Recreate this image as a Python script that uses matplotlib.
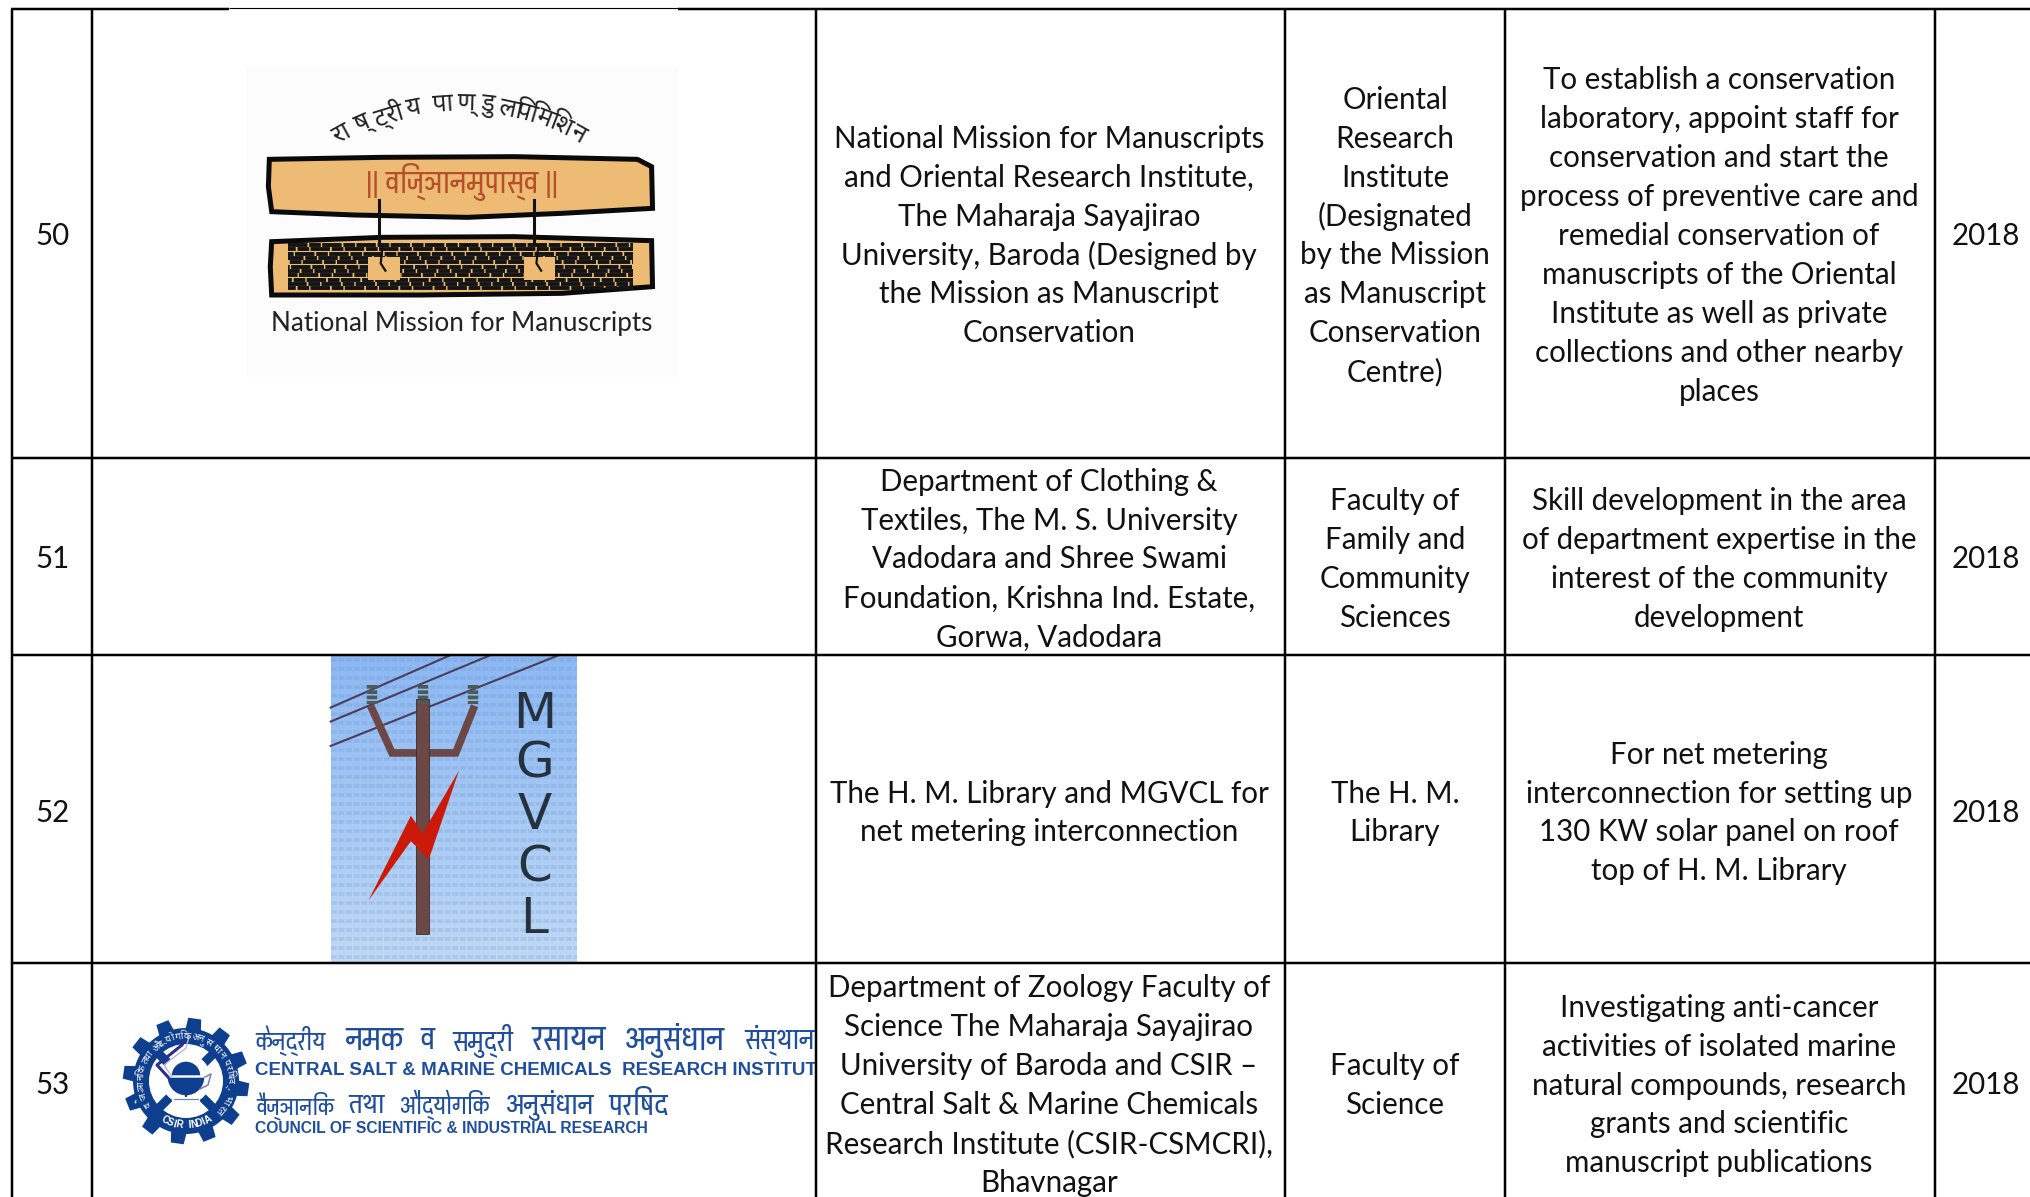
import numpy as np
import matplotlib
matplotlib.use('Agg')
import matplotlib.pyplot as plt
from matplotlib.patches import Polygon, Rectangle, Circle, Wedge

# ---- table content ----
row_numbers = ['50', '51', '52', '53']
years = ['2018', '2018', '2018', '2018']
partners = [
    ['National Mission for Manuscripts', 'and Oriental Research Institute,', 'The Maharaja Sayajirao',
     'University, Baroda (Designed by', 'the Mission as Manuscript', 'Conservation'],
    ['Department of Clothing &', 'Textiles, The M. S. University', 'Vadodara and Shree Swami',
     'Foundation, Krishna Ind. Estate,', 'Gorwa, Vadodara'],
    ['The H. M. Library and MGVCL for', 'net metering interconnection'],
    ['Department of Zoology Faculty of', 'Science The Maharaja Sayajirao', 'University of Baroda and CSIR \u2013',
     'Central Salt & Marine Chemicals', 'Research Institute (CSIR-CSMCRI),', 'Bhavnagar'],
]
faculties = [
    ['Oriental', 'Research', 'Institute', '(Designated', 'by the Mission', 'as Manuscript', 'Conservation', 'Centre)'],
    ['Faculty of', 'Family and', 'Community', 'Sciences'],
    ['The H. M.', 'Library'],
    ['Faculty of', 'Science'],
]
purposes = [
    ['To establish a conservation', 'laboratory, appoint staff for', 'conservation and start the',
     'process of preventive care and', 'remedial conservation of', 'manuscripts of the Oriental',
     'Institute as well as private', 'collections and other nearby', 'places'],
    ['Skill development in the area', 'of department expertise in the', 'interest of the community', 'development'],
    ['For net metering', 'interconnection for setting up', '130 KW solar panel on roof', 'top of H. M. Library'],
    ['Investigating anti-cancer', 'activities of isolated marine', 'natural compounds, research', 'grants and scientific',
     'manuscript publications'],
]

W, H = 2031, 1197
BODY = 'Lato'
DEVA = 'Noto Sans Devanagari'
DEVA_NARROW = 'Pragati Narrow'
fig = plt.figure(figsize=(W / 100, H / 100), dpi=100, facecolor='white')
ax = fig.add_axes([0, 0, 1, 1])
ax.set_xlim(0, W)
ax.set_ylim(H, 0)
ax.axis('off')
r = fig.canvas.get_renderer()

def fit(x, y, s, width, ha='left', **kw):
    """Real text, sized so its drawn width is the given number of pixels."""
    t = ax.text(x, y, s, ha=ha, va='center', fontsize=10, **kw)
    t.set_fontsize(10 * width / t.get_window_extent(r).width)
    return t

# ---- grid ----
col_x = [12, 92, 816, 1284.5, 1504.5, 1934.5]
row_y = [458, 655, 963]
row_centre = [236, 559.5, 813, 1085.5]
LW = 2.5 * 0.72
for x in col_x:
    ax.plot([x, x], [9, H], color='black', lw=LW, solid_capstyle='butt', zorder=5)
for y in row_y:
    ax.plot([12, W], [y, y], color='black', lw=LW, solid_capstyle='butt', zorder=5)
ax.plot([11, 229], [9, 9], color='black', lw=LW, solid_capstyle='butt', zorder=5)
ax.plot([678, W], [9, 9], color='black', lw=LW, solid_capstyle='butt', zorder=5)
ax.plot([229, 678], [8.4, 8.4], color='black', lw=0.8, solid_capstyle='butt', zorder=5)

# ---- table text ----
FS = 21.25
PITCH = 38.95
def block(x, cy, lines):
    n = len(lines)
    for i, s in enumerate(lines):
        ax.text(x, cy + (i - (n - 1) / 2) * PITCH, s, ha='center', va='center', fontsize=FS,
                family=BODY, color='#111111', zorder=6)
for i, cy in enumerate(row_centre):
    ax.text(52, cy, row_numbers[i], ha='center', va='center', fontsize=FS, family=BODY, color='#111111')
    ax.text(1986, cy, years[i], ha='center', va='center', fontsize=FS, family=BODY, color='#111111')
    block(1049, cy, partners[i])
    block(1395, cy, faculties[i])
    block(1719, cy, purposes[i])

# ---- logo: National Mission for Manuscripts ----
zx = lambda X: 90 + X / 2.119
zy = lambda Y: Y / 3
ax.add_patch(Rectangle((246, 67), 432, 310, fc='#fcfcfc', ec='none', zorder=1))
TAN = '#EDBB73'
top_leaf = [(380, 478), (620, 472), (900, 470), (1160, 478), (1190, 500), (1192, 625), (1000, 640),
            (800, 652), (560, 645), (385, 635), (378, 560)]
ax.add_patch(Polygon([(zx(a), zy(b)) for a, b in top_leaf], closed=True, fc=TAN, ec='#0a0a0a', lw=3.6, zorder=2))
bot_leaf = [(385, 725), (620, 712), (900, 710), (1190, 722), (1192, 860), (1000, 880), (700, 885), (385, 885), (382, 800)]
ax.add_patch(Polygon([(zx(a), zy(b)) for a, b in bot_leaf], closed=True, fc=TAN, ec='#0a0a0a', lw=3.6, zorder=2))
for X in (612, 940):
    ax.plot([zx(X), zx(X)], [zy(600), zy(730)], color='#111111', lw=2.2, zorder=3)
stripe_y = (735, 748, 761, 774, 787, 800, 813, 826, 839, 852, 865)
stripe_phase = (0, 3, 7, 1, 5, 8, 2, 6, 4, 9, 3)
for Y, ph in zip(stripe_y, stripe_phase):
    ax.plot([zx(420), zx(1150)], [zy(Y), zy(Y)], color='#141414', lw=2.8, ls=(ph, (5, 0.45, 3, 0.35)), zorder=3)
for X0 in (590, 920):
    ax.add_patch(Rectangle((zx(X0), zy(770)), 66 / 2.119, 70 / 3, fc=TAN, ec='none', zorder=4))
    ax.plot([zx(X0 + 30), zx(X0 + 26), zx(X0 + 36)], [zy(735), zy(790), zy(812)], color='#111111', lw=1.6, zorder=5)
fit(zx(788), zy(545), '|| विज्ञानमुपास्व ||', 191, ha='center', family=DEVA_NARROW, color='#B5502A', zorder=4)
fit(zx(788), zy(972), 'National Mission for Manuscripts', 382, ha='center', family='Lato', color='#222222', zorder=4)
# arc title, one cluster at a time
arc_title = ['रा', 'ष्', 'ट्री', 'य', 'पा', 'ण्', 'डु', 'लि', 'पि', 'मि', 'श', 'न']
arc_angle = [119, 113.5, 107, 101, 94, 88.5, 83.5, 78, 74, 69, 65, 61]
cx, cy, rad = 460, 347, 243
for ch, a in zip(arc_title, arc_angle):
    ax.text(cx + rad * np.cos(np.radians(a)), cy - rad * np.sin(np.radians(a)), ch, family=DEVA, fontweight='bold',
            fontsize=18, rotation=a - 90, rotation_mode='anchor', ha='center', va='center', color='#222222', zorder=4)

# ---- logo: MGVCL ----
zx2 = lambda X: 90 + X / 2.119
zy2 = lambda Y: 650 + Y / 2.866
grad = np.linspace(0, 1, 64)[:, None, None] * (np.array([0.75, 0.85, 0.96]) - np.array([0.55, 0.72, 0.95])) + np.array([0.55, 0.72, 0.95])
ax.imshow(grad, extent=(331, 577, 963, 655), aspect='auto', zorder=2)
ax.set_xlim(0, W)
ax.set_ylim(H, 0)
for y in np.arange(660, 962, 9.0):
    ax.plot([331, 577], [y, y], color='#5f8fd0', lw=2.6, alpha=0.22, ls=(0, (1.6, 0.5)), zorder=2.1)
for a, b, c in ((165, 765, 14), (205, 850, 14), (275, 995, 14)):
    ax.plot([zx2(510), zx2(b)], [zy2(a), zy2(c)], color='#4a3d5c', lw=1.5, zorder=3)
POLE = '#6B4746'
for pts in ([(598, 170), (640, 295), (700, 295)], [(812, 170), (775, 295), (710, 295)]):
    ax.plot([zx2(p[0]) for p in pts], [zy2(p[1]) for p in pts], color=POLE, lw=5.5, solid_joinstyle='miter', zorder=3)
ax.add_patch(Rectangle((zx2(690), zy2(140)), 28 / 2.119, 675 / 2.866, fc=POLE, ec='#3d2b2b', lw=0.6, zorder=3))
for X in (598, 705, 812):
    ax.plot([zx2(X), zx2(X)], [zy2(100), zy2(155)], color='#4c5a58', lw=7.5, ls=(0, (0.35, 0.16)), zorder=3.1)
bolt = [(590, 718), (680, 475), (705, 525), (782, 345), (718, 600), (680, 548)]
ax.add_patch(Polygon([(zx2(a), zy2(b)) for a, b in bolt], closed=True, fc='#CC1A0A', ec='none', zorder=4))
for s, Y in zip('MGVCL', (182, 326, 472, 622, 770)):
    ax.text(zx2(942), zy2(Y), s, family='Liberation Sans Narrow', fontsize=36, ha='center',
            va='center', color='#25323F', zorder=4)

# ---- logo: CSIR-CSMCRI ----
BLUE = '#0E3F8E'
gx, gy = 186, 1081
for k in range(12):
    a = np.radians(k * 30 + 8)
    ca, sa = np.cos(a), np.sin(a)
    t = np.array([-sa, ca])
    u = np.array([ca, sa])
    c0 = np.array([gx, gy])
    ax.add_patch(Polygon([c0 + 45 * u + 8.5 * t, c0 + 63 * u + 6.5 * t, c0 + 63 * u - 6.5 * t, c0 + 45 * u - 8.5 * t],
                         closed=True, fc=BLUE, ec='none', zorder=3))
ax.add_patch(Circle((gx, gy), 53, fc=BLUE, ec='none', zorder=3))
ax.add_patch(Circle((gx, gy), 37, fc='white', ec='none', zorder=3.1))
for a in (45, 135):
    ar = np.radians(a)
    d = 38 * np.array([np.cos(ar), np.sin(ar)])
    ax.plot([gx - d[0], gx + d[0]], [gy - d[1], gy + d[1]], color=BLUE, lw=6.5, solid_capstyle='butt', zorder=3.2)
# lamp: bowl, lid, stem and base, handle, flame
ax.add_patch(Circle((gx, gy - 2), 25, fc='white', ec='none', zorder=3.3))
ax.add_patch(Wedge((gx, gy - 4), 19, 0, 180, fc=BLUE, ec='white', lw=1, zorder=3.4))
ax.add_patch(Wedge((gx, gy - 5), 15, 180, 360, fc=BLUE, ec='white', lw=1, zorder=3.4))
ax.plot([gx, gx], [gy + 14, gy + 18], color='#1b2f86', lw=1.6, zorder=3.4)
ax.plot([gx - 12, gx + 12], [gy + 18, gy + 18], color='white', lw=3, zorder=3.4)
ax.plot([gx - 12, gx + 12], [gy + 18, gy + 18], color='#7f7bb5', lw=0.9, zorder=3.45)
ax.plot([gx + 19, gx + 25, gx + 22, gx + 14], [gy - 4, gy - 7, gy + 4, gy + 8], color='#7f7bb5', lw=1.1, zorder=3.4)
ax.plot([gx - 18, gx - 29, gx - 4, gx + 1], [gy - 4, gy - 16, gy - 36, gy - 44], color='#2a2f8f', lw=2.2, zorder=3.5)
ax.plot([gx - 14, gx - 22, gx, gx + 3], [gy - 4, gy - 16, gy - 33, gy - 44], color='#b8b5dc', lw=1.0, zorder=3.5)
# ring lettering
ring_top = 'वैज्ञानिक तथा औद्योगिक अनुसंधान परिषद्, भारत'
ang = np.linspace(212, -40, len(ring_top))
for ch, a in zip(ring_top, ang):
    ar = np.radians(a)
    ax.text(gx + 44.5 * np.cos(ar), gy - 44.5 * np.sin(ar), ch, family=DEVA, fontsize=6.8, color='white',
            rotation=a - 90, rotation_mode='anchor', ha='center', va='center', zorder=3.7)
ring_low = 'CSIR INDIA'
ang = np.linspace(242, 300, len(ring_low))
for ch, a in zip(ring_low, ang):
    ar = np.radians(a)
    ax.text(gx + 44.5 * np.cos(ar), gy - 44.5 * np.sin(ar), ch, family='Liberation Sans', fontsize=7, fontweight='bold',
            color='white', rotation=a - 270, rotation_mode='anchor', ha='center', va='center', zorder=3.7)

line1 = [('केन्द्रीय', 350, 500), ('नमक', 540, 665), ('व', 700, 730), ('समुद्री', 768, 898),
         ('रसायन', 935, 1095), ('अनुसंधान', 1132, 1345), ('संस्थान', 1385, 1535)]
line3 = [('वैज्ञानिक', 352, 518), ('तथा', 548, 625), ('औद्योगिक', 658, 848), ('अनुसंधान', 880, 1068), ('परिषद', 1100, 1225)]
for s, a, b in line1:
    fit(zx2((a + b) / 2), zy2(1120), s, (b - a) / 2.119, ha='center', family=DEVA_NARROW, color='#1F4E9E', zorder=4)
for s, a, b in line3:
    fit(zx2((a + b) / 2), zy2(1305), s, (b - a) / 2.119, ha='center', family=DEVA_NARROW, color='#1F4E9E', zorder=4)
t = fit(255, zy2(1205), 'CENTRAL SALT & MARINE CHEMICALS  RESEARCH INSTITUTE', 571, family='Liberation Sans',
        fontweight='bold', color='#1F4E9E', zorder=4, clip_on=True)
t.set_clip_path(Rectangle((92, 1000), 724, 197, transform=ax.transData))
fit(255, zy2(1372), 'COUNCIL OF SCIENTIFIC & INDUSTRIAL RESEARCH', 394, family='Liberation Sans',
    fontweight='bold', color='#1F4E9E', zorder=4)

fig.savefig('out.png', dpi=100, facecolor='white')
